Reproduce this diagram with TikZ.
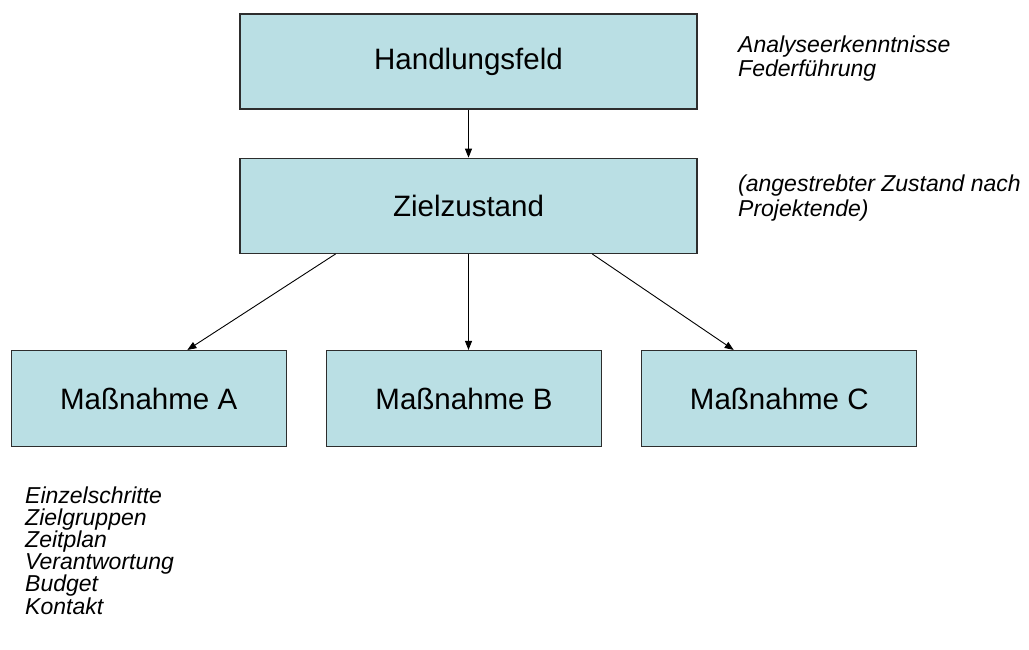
\documentclass[tikz,border=0pt]{standalone}
\usepackage{fontspec}
\setmainfont{Liberation Sans}
\usetikzlibrary{shapes,arrows.meta,positioning,calc}
\definecolor{feld}{RGB}{186,223,228}
\definecolor{rand}{RGB}{45,45,45}

\begin{document}
\begin{tikzpicture}[x=1pt,y=-1pt,% one unit is one pixel of the sketch, y runs down
			every node/.style={
				align=left,		% so that "\\" breaks the notes
				inner sep=0pt
			},
			kasten/.style={rectangle,draw=rand,line width=1.3pt,fill=feld,align=center,
				font=\fontsize{29.5}{34}\selectfont},
			breit/.style={kasten,minimum width=457pt,minimum height=95pt},
			schmal/.style={kasten,minimum width=275pt,minimum height=96pt},
			notiz/.style={anchor=base west,font=\fontsize{23}{24}\selectfont\itshape},% base = last line
			every edge/.style={draw,line width=0.9pt,-{Triangle[length=9pt,width=7pt]}}
		]
		\useasboundingbox (0,0) rectangle (1029,650);
		\node[breit](R1) at (468.5,61.5){Handlungsfeld};
		\node[breit](R2)[below=48pt of R1]{Zielzustand};
		\node[schmal](R4)[below=96pt of R2,xshift=-4.5pt]{Maßnahme B};
		\node[schmal](R3)[left=39pt of R4]{Maßnahme A};
		\node[schmal](R5)[right=39pt of R4]{Maßnahme C};
		\node[notiz](N1) at (738,77){Analyseerkenntnisse\\Federführung};
		\node[notiz,font=\fontsize{23}{25}\selectfont\itshape](N2) at (738,217)
			{(angestrebter Zustand nach\\Projektende)};
		\node[notiz,font=\fontsize{23}{22.2}\selectfont\itshape](N3) at (25,614)
			{Einzelschritte\\Zielgruppen\\Zeitplan\\Verantwortung\\Budget\\Kontakt};
		\path
		(R1)edge (R2)
		($(R2.south west)!.21!(R2.south east)$)edge ($(R3.north west)!.64!(R3.north east)$)
		(R2.south)edge (R2.south |- R4.north)
		($(R2.south west)!.77!(R2.south east)$)edge ($(R5.north west)!.335!(R5.north east)$)
		;
	\end{tikzpicture}
\end{document}
